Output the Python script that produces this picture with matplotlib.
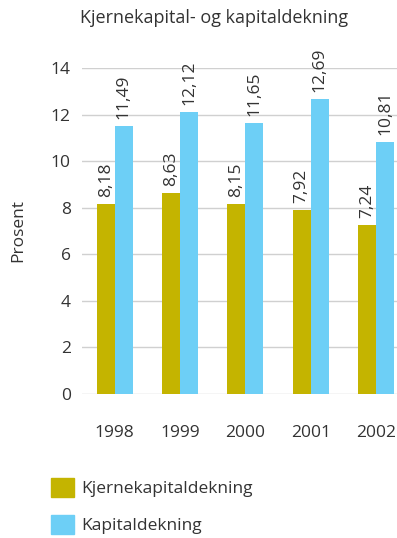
import matplotlib.pyplot as plt
import numpy as np
from matplotlib.patches import Rectangle

plt.rcParams['font.family'] = ['Open Sans', 'DejaVu Sans']

# data
years = ['1998', '1999', '2000', '2001', '2002']
kjerne = [8.18, 8.63, 8.15, 7.92, 7.24]
kapital = [11.49, 12.12, 11.65, 12.69, 10.81]
series_names = ['Kjernekapitaldekning', 'Kapitaldekning']
colors = ['#c4b400', '#6dcff6']
txt = '#333333'
fs = 12.5

fig = plt.figure(figsize=(3.97, 5.38), dpi=100)
ax = fig.add_axes([82/397, 144/538, 1 - 82/397, (394-68)/538])

x = np.arange(len(years))
w = 0.275
b1 = ax.bar(x - w/2, kjerne, w, color=colors[0], zorder=2)
b2 = ax.bar(x + w/2, kapital, w, color=colors[1], zorder=2)

for bars, vals in ((b1, kjerne), (b2, kapital)):
    for r, v in zip(bars, vals):
        ax.text(r.get_x() + r.get_width()/2, v + 0.3, f'{v:.2f}'.replace('.', ','),
                rotation=90, ha='center', va='bottom', fontsize=fs, color=txt,
                clip_on=False)

ax.set_ylim(0, 14)
ax.set_xlim(-0.5, 4.32)
ax.set_yticks(range(0, 15, 2))
ax.set_xticks(x)
ax.set_xticklabels(years)
ax.tick_params(axis='both', length=0, labelsize=fs, labelcolor=txt)
ax.tick_params(axis='x', pad=22)
ax.tick_params(axis='y', pad=8)
ax.grid(axis='y', color='#d0d0d0', linewidth=1, zorder=0)
for s in ax.spines.values():
    s.set_visible(False)
ax.set_ylabel('Prosent', fontsize=fs, color=txt, labelpad=18)

fig.text(80/397, 1 - 18/538, 'Kjernekapital- og kapitaldekning', fontsize=13,
         color=txt, ha='left', va='center')

handles = [Rectangle((0, 0), 1, 1, color=c) for c in colors]
fig.legend(handles, series_names, loc='upper left',
           bbox_to_anchor=(35/397, 1 - 462/538), frameon=False, fontsize=fs,
           handlelength=1.35, handleheight=1.35, labelspacing=1.0,
           handletextpad=0.4, labelcolor=txt)

fig.savefig('out.png', dpi=100)
